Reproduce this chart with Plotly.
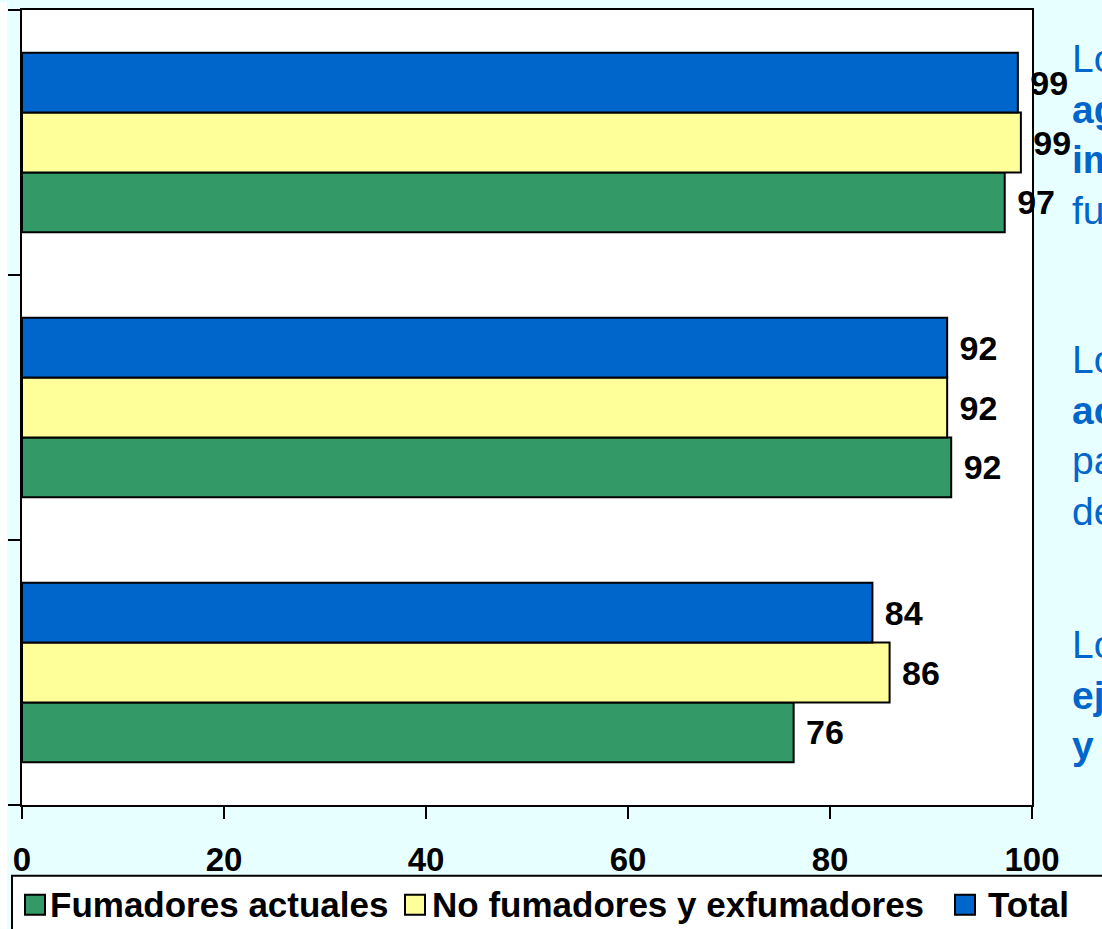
import plotly.graph_objects as go

# ---- data (bottom group first, as Plotly lists categories bottom-up) ----
categories = ["Grupo 3", "Grupo 2", "Grupo 1"]
fumadores_actuales = [76.4, 92.0, 97.3]
no_fumadores = [85.9, 91.6, 98.9]
total = [84.2, 91.6, 98.6]
series_names = ["Fumadores actuales", "No fumadores y exfumadores", "Total"]
series_colors = ["#339966", "#FFFF99", "#0066CC"]
x_ticks = [0, 20, 40, 60, 80, 100]
side_texts = [
    "Lo<br><b>ag</b><br><b>im</b><br>fu",
    "Lo<br><b>ac</b><br>pa<br>de",
    "Lo<br><b>ej</b><br><b>y</b>",
]

FONT = "Liberation Sans, Arial, sans-serif"
BG = "#E8FFFF"
W, H = 1102, 929
L, R, T, B = 22, 70, 8, 124
PW, PH = W - L - R, H - T - B


def px(x):
    return (x - L) / PW


def py(y):
    return (H - B - y) / PH


fig = go.Figure()
for name, vals, color in zip(series_names, [fumadores_actuales, no_fumadores, total], series_colors):
    fig.add_trace(go.Bar(
        y=categories, x=vals, orientation="h", name=name,
        marker=dict(color=color, line=dict(color="black", width=2)),
        texttemplate=" %{x:.0f}", textposition="outside", cliponaxis=False,
        constraintext="none",
        textfont=dict(family=FONT, size=34, color="black", weight="bold"),
        showlegend=False,
    ))

shapes = []
annotations = []

# white strip at the far left
shapes.append(dict(type="rect", xref="paper", yref="paper", x0=px(0), x1=px(7), y0=py(0), y1=py(H),
                   fillcolor="white", line=dict(width=0), layer="below"))

# manual legend box
shapes.append(dict(type="rect", xref="paper", yref="paper", x0=px(12), x1=px(1120), y0=py(876), y1=py(945),
                   fillcolor="white", line=dict(color="black", width=2)))
legend_sq_x = [25, 405, 955]
legend_txt_x = [48, 430, 986]
for name, color, sx, tx in zip(series_names, series_colors, legend_sq_x, legend_txt_x):
    shapes.append(dict(type="rect", xref="paper", yref="paper", x0=px(sx), x1=px(sx + 20),
                       y0=py(895), y1=py(915), fillcolor=color, line=dict(color="black", width=2)))
    annotations.append(dict(xref="paper", yref="paper", x=px(tx), y=py(905), xanchor="left", yanchor="middle",
                            text=name, showarrow=False,
                            font=dict(family=FONT, size=35, color="black", weight="bold")))

# clipped side texts
side_centers = [133, 435, 695]
for txt, cy in zip(side_texts, side_centers):
    annotations.append(dict(xref="paper", yref="paper", x=px(1070), y=py(cy), xanchor="left", yanchor="middle",
                            align="left", text=txt, showarrow=False,
                            font=dict(family=FONT, size=39, color="#0066CC")))

fig.update_layout(
    width=W, height=H, margin=dict(l=L, r=R, t=T, b=B),
    paper_bgcolor=BG, plot_bgcolor="white",
    barmode="group", bargap=0.323, bargroupgap=0,
    showlegend=False, shapes=shapes, annotations=annotations,
)
fig.update_xaxes(range=[0, 100], tickvals=x_ticks, showgrid=False, zeroline=False,
                 showline=True, linecolor="black", linewidth=2, mirror=True,
                 ticks="outside", ticklen=12, tickwidth=2, tickcolor="black",
                 tickfont=dict(family=FONT, size=33, color="black", weight="bold"),
                 ticklabelstandoff=12)
fig.update_yaxes(range=[-0.5, 2.5], showgrid=False, zeroline=False,
                 showline=True, linecolor="black", linewidth=2, mirror=True,
                 ticks="outside", ticklen=12, tickwidth=2, tickcolor="black",
                 tickson="boundaries", showticklabels=False)

fig.write_html(
    "out.html",
    config={"displayModeBar": False},
    post_script="document.body.style.margin='0';document.body.style.overflow='hidden';",
)
